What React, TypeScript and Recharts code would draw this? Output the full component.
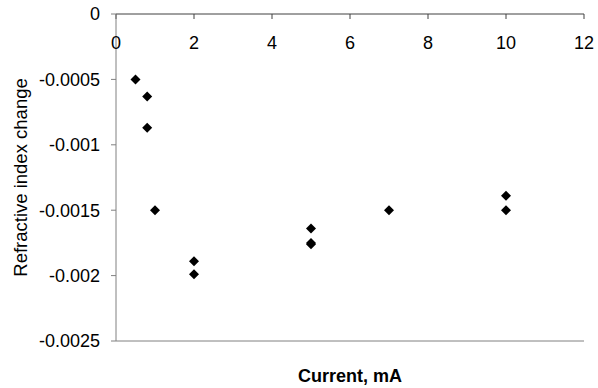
import { ScatterChart, Scatter, XAxis, YAxis, Label } from "recharts";

const currents = [0.5, 0.8, 0.8, 1, 2, 2, 5, 5, 5, 7, 10, 10];
const indexChanges = [
  -0.0005, -0.00063, -0.00087, -0.0015, -0.00189, -0.00199, -0.00164,
  -0.00175, -0.00176, -0.0015, -0.00139, -0.0015,
];
const xTicks = [0, 2, 4, 6, 8, 10, 12];
const yTicks = [-0.0025, -0.002, -0.0015, -0.001, -0.0005, 0];

const data = currents.map((x, i) => ({ x, y: indexChanges[i] }));

const font = "'Liberation Sans', Arial, sans-serif";

const Diamond = (props: any) => {
  const { cx, cy } = props;
  const r = 5;
  return (
    <polygon
      points={`${cx},${cy - r} ${cx + r},${cy} ${cx},${cy + r} ${cx - r},${cy}`}
      fill="#000"
    />
  );
};

export default function App() {
  return (
    <div style={{ position: "absolute", left: 0, top: 0, background: "#fff" }}>
      <ScatterChart
        width={598}
        height={388}
        margin={{ top: 14, right: 14, bottom: 0, left: 0 }}
      >
        <XAxis
          type="number"
          dataKey="x"
          orientation="top"
          mirror
          domain={[0, 12]}
          ticks={xTicks}
          height={30}
          tickSize={5}
          tickMargin={17}
          stroke="#404040"
          tick={{ fill: "#000", fontSize: 18, fontFamily: font }}
        />
        <XAxis
          xAxisId="bottom"
          type="number"
          orientation="bottom"
          domain={[0, 12]}
          height={47}
          tick={false}
          tickLine={false}
          stroke="#808080"
        >
          <Label
            value="Current, mA"
            position="insideBottom"
            offset={6}
            style={{ fill: "#000", fontSize: 18, fontWeight: "bold", fontFamily: font }}
          />
        </XAxis>
        <YAxis
          type="number"
          dataKey="y"
          domain={[-0.0025, 0]}
          ticks={yTicks}
          width={116}
          tickSize={5}
          tickMargin={11}
          stroke="#808080"
          tick={{ fill: "#000", fontSize: 18, fontFamily: font }}
        >
          <Label
            value="Refractive index change"
            angle={-90}
            position="insideLeft"
            offset={20}
            style={{ textAnchor: "middle", fill: "#000", fontSize: 18.5, fontFamily: font }}
          />
        </YAxis>
        <YAxis
          yAxisId="right"
          type="number"
          orientation="right"
          domain={[-0.0025, 0]}
          width={0}
          tick={false}
          tickLine={false}
          stroke="#808080"
        />
        <Scatter data={data} shape={<Diamond />} isAnimationActive={false} />
      </ScatterChart>
    </div>
  );
}
